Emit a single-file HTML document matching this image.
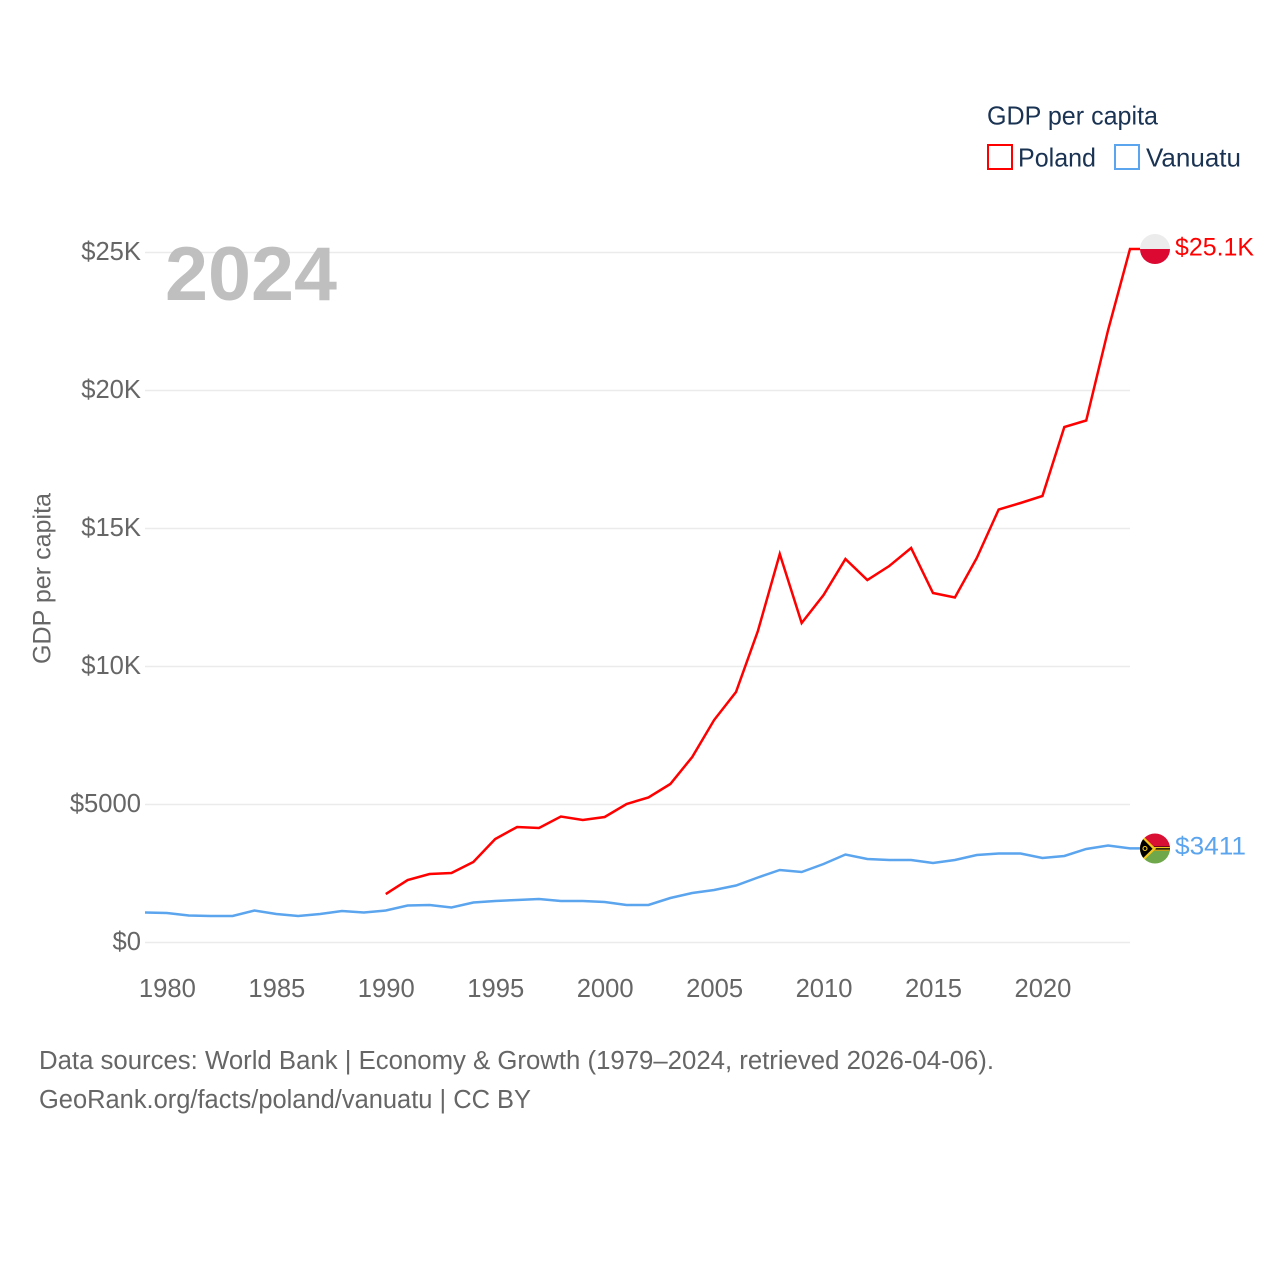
<!DOCTYPE html>
<html lang="en">
<head>
<meta charset="utf-8">
<title>GDP per capita: Poland and Vanuatu</title>
<style>
html,body{margin:0;padding:0;background:#fff}
#chart{display:block;font-family:"Liberation Sans",sans-serif}
</style>
</head>
<body>
<svg id="chart" width="1280" height="1280" viewBox="0 0 1280 1280" xmlns="http://www.w3.org/2000/svg">
  <defs>
    <clipPath id="poland-clip"><circle cx="1155" cy="249" r="15"></circle></clipPath>
    <clipPath id="vanuatu-clip"><circle cx="1155" cy="848.5" r="15"></circle></clipPath>
  </defs>
  <rect width="1280" height="1280" fill="#ffffff"></rect>
  <g id="grid"></g>
  <g id="y-ticks"></g>
  <g id="x-ticks"></g>
  <text transform="translate(50.5,664) rotate(-90)" font-size="25" fill="#666666" textLength="171" lengthAdjust="spacingAndGlyphs">GDP per capita</text>
  <text x="165" y="300" font-size="76" font-weight="700" fill="#bfbfbf" textLength="172" lengthAdjust="spacingAndGlyphs">2024</text>
  <g id="series"></g>

  <g clip-path="url(#poland-clip)">
    <rect x="1140" y="234" width="30" height="15" fill="#ececec"></rect>
    <rect x="1140" y="249" width="30" height="15" fill="#dc0a32"></rect>
  </g>
  <g clip-path="url(#vanuatu-clip)">
    <rect x="1140" y="833" width="30" height="16" fill="#d90f33"></rect>
    <rect x="1140" y="849" width="30" height="15" fill="#6fa84a"></rect>
    <rect x="1140" y="846.5" width="30" height="4.5" fill="#000000"></rect>
    <rect x="1150" y="847" width="20" height="1.2" fill="#f2c81e"></rect>
    <rect x="1150" y="849.6" width="20" height="1.2" fill="#f2c81e"></rect>
    <polygon points="1140,833 1156,848.8 1140,864" fill="#f2c81e"></polygon>
    <polygon points="1140,836 1152.6,848.8 1140,861" fill="#000000"></polygon>
    <circle cx="1145" cy="848.5" r="2" fill="none" stroke="#f2c81e" stroke-width="1.1"></circle>
  </g>

  <text id="poland-value" x="1175" y="255.5" font-size="25" fill="#ff0000" textLength="79" lengthAdjust="spacingAndGlyphs">$25.1K</text>
  <text id="vanuatu-value" x="1175" y="854.5" font-size="25" fill="#5ba4ee" textLength="71" lengthAdjust="spacingAndGlyphs">$3411</text>

  <g>
    <text x="987" y="124.5" font-size="26" fill="#1a3353" textLength="171" lengthAdjust="spacingAndGlyphs">GDP per capita</text>
    <g>
      <rect x="988" y="145" width="24" height="24" fill="none" stroke="#ff0000" stroke-width="2"></rect>
      <text x="1018" y="166.5" font-size="26" fill="#1a3353" textLength="78" lengthAdjust="spacingAndGlyphs">Poland</text>
    </g>
    <g>
      <rect x="1115" y="145" width="24" height="24" fill="none" stroke="#5ba4ee" stroke-width="2"></rect>
      <text x="1146" y="166.5" font-size="26" fill="#1a3353" textLength="95" lengthAdjust="spacingAndGlyphs">Vanuatu</text>
    </g>
  </g>

  <text x="39" y="1069" font-size="25.5" fill="#666666" textLength="955" lengthAdjust="spacingAndGlyphs">Data sources: World Bank | Economy &amp; Growth (1979–2024, retrieved 2026-04-06).</text>
  <text x="39" y="1108" font-size="25.5" fill="#666666" textLength="492" lengthAdjust="spacingAndGlyphs">GeoRank.org/facts/poland/vanuatu | CC BY</text>
</svg>
<script>
const polandYears = [1990,1991,1992,1993,1994,1995,1996,1997,1998,1999,2000,2001,2002,2003,2004,2005,2006,2007,2008,2009,2010,2011,2012,2013,2014,2015,2016,2017,2018,2019,2020,2021,2022,2023,2024];
const polandValues = [1757,2264,2482,2518,2917,3750,4185,4149,4565,4438,4547,5018,5254,5743,6721,8060,9076,11286,14076,11576,12591,13895,13134,13641,14293,12663,12500,13931,15688,15924,16178,18678,18913,22192,25127];
const vanuatuYears = [1979,1980,1981,1982,1983,1984,1985,1986,1987,1988,1989,1990,1991,1992,1993,1994,1995,1996,1997,1998,1999,2000,2001,2002,2003,2004,2005,2006,2007,2008,2009,2010,2011,2012,2013,2014,2015,2016,2017,2018,2019,2020,2021,2022,2023,2024];
const vanuatuValues = [1087,1069,978,960,960,1159,1033,960,1033,1141,1087,1159,1340,1359,1268,1449,1504,1540,1576,1504,1504,1467,1359,1359,1612,1793,1902,2065,2355,2627,2554,2844,3188,3025,2989,2989,2880,2989,3170,3225,3225,3061,3134,3388,3514,3411];
const yTickValues = [0,5000,10000,15000,20000,25000];
const yTickLabels = ["$0","$5000","$10K","$15K","$20K","$25K"];
const xTickValues = [1980,1985,1990,1995,2000,2005,2010,2015,2020];

const SVG_NS = "http://www.w3.org/2000/svg";
function xScale(year){ return 145 + (year - 1979) * (1130 - 145) / (2024 - 1979); }
function yScale(value){ return 942.5 - value * (942.5 - 252.5) / 25000; }

const gridGroup = document.getElementById("grid");
const yTickGroup = document.getElementById("y-ticks");
const xTickGroup = document.getElementById("x-ticks");
const seriesGroup = document.getElementById("series");

yTickValues.forEach(function(value, i){
  const gridLine = document.createElementNS(SVG_NS, "line");
  gridLine.setAttribute("x1", 145);
  gridLine.setAttribute("x2", 1130);
  gridLine.setAttribute("y1", yScale(value));
  gridLine.setAttribute("y2", yScale(value));
  gridLine.setAttribute("stroke", "#ebebeb");
  gridLine.setAttribute("stroke-width", 1.5);
  
  
  gridGroup.appendChild(gridLine);

  const yLabel = document.createElementNS(SVG_NS, "text");
  yLabel.setAttribute("x", 141);
  yLabel.setAttribute("y", yScale(value) + 7.5);
  yLabel.setAttribute("text-anchor", "end");
  yLabel.setAttribute("font-size", 25.6);
  yLabel.setAttribute("fill", "#666666");
  yLabel.textContent = yTickLabels[i];
  
  
  yTickGroup.appendChild(yLabel);
});

xTickValues.forEach(function(year){
  const xLabel = document.createElementNS(SVG_NS, "text");
  xLabel.setAttribute("x", xScale(year) + 0.5);
  xLabel.setAttribute("y", 997);
  xLabel.setAttribute("text-anchor", "middle");
  xLabel.setAttribute("font-size", 25.6);
  xLabel.setAttribute("fill", "#666666");
  xLabel.textContent = String(year);
  
  
  xTickGroup.appendChild(xLabel);
});

function seriesPoints(years, values){
  const coords = years.map(function(year, i){
    return xScale(year).toFixed(2) + "," + yScale(values[i]).toFixed(2);
  });
  const lastY = yScale(values[values.length - 1]).toFixed(2);
  coords.push("1140," + lastY);
  return coords.join(" ");
}

const polandLine = document.createElementNS(SVG_NS, "polyline");
polandLine.setAttribute("points", seriesPoints(polandYears, polandValues));
polandLine.setAttribute("fill", "none");
polandLine.setAttribute("stroke", "#ff0000");
polandLine.setAttribute("stroke-width", 2.5);


seriesGroup.appendChild(polandLine);

const vanuatuLine = document.createElementNS(SVG_NS, "polyline");
vanuatuLine.setAttribute("points", seriesPoints(vanuatuYears, vanuatuValues));
vanuatuLine.setAttribute("fill", "none");
vanuatuLine.setAttribute("stroke", "#5ba4ee");
vanuatuLine.setAttribute("stroke-width", 2.5);


seriesGroup.appendChild(vanuatuLine);
</script>
</body>
</html>
